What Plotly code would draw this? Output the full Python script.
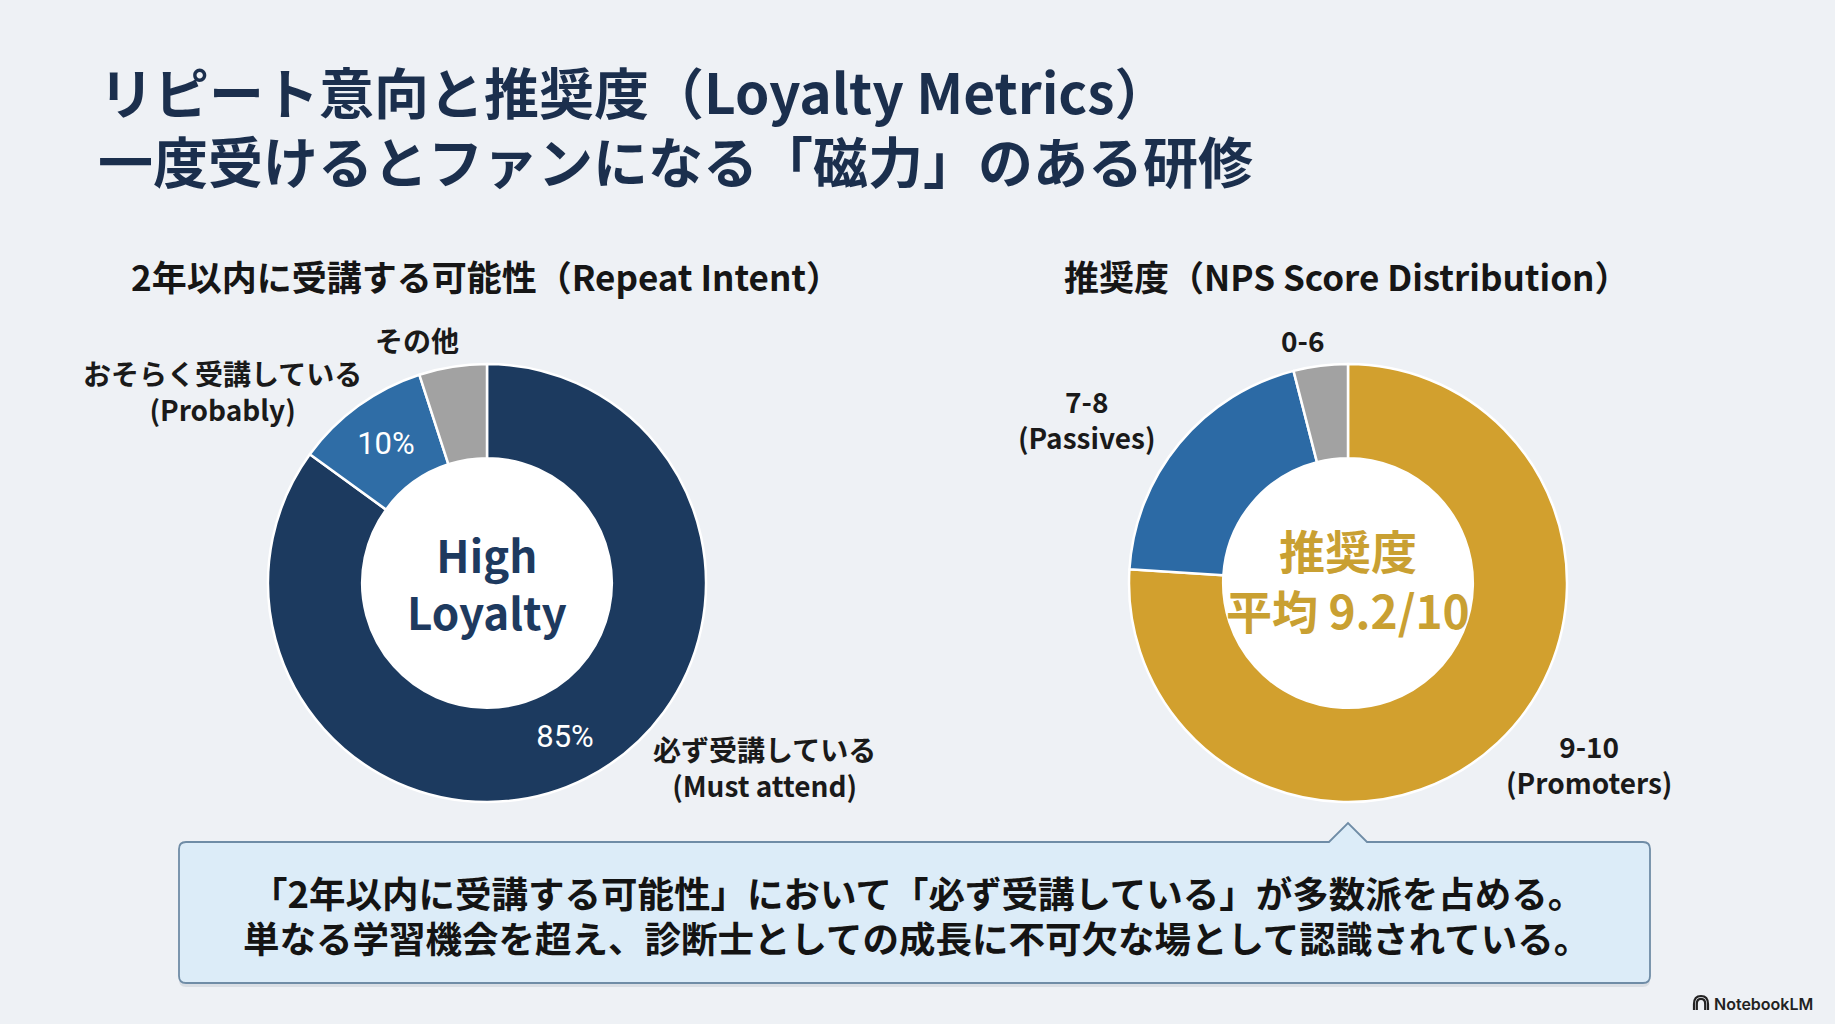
import plotly.graph_objects as go

W, H = 1835, 1024

# ---------------- data ----------------
title_lines = ["リピート意向と推奨度（Loyalty Metrics）",
               "一度受けるとファンになる「磁力」のある研修"]
left_title = "2年以内に受講する可能性（Repeat Intent）"
right_title = "推奨度（NPS Score Distribution）"

repeat_labels = ["必ず受講している<br>(Must attend)", "おそらく受講している<br>(Probably)", "その他"]
repeat_values = [85, 10, 5]
repeat_text = ["85%", "10%", ""]
repeat_colors = ["#1C3A5F", "#2F6DA6", "#A2A2A2"]

nps_labels = ["9-10<br>(Promoters)", "7-8<br>(Passives)", "0-6"]
nps_values = [76, 20, 4]
nps_colors = ["#D2A02E", "#2C6AA5", "#A2A2A2"]

left_center_text = "High<br>Loyalty"
right_center_text = "推奨度<br>平均 9.2/10"

callout_lines = ["「2年以内に受講する可能性」において「必ず受講している」が多数派を占める。",
                 "単なる学習機会を超え、診断士としての成長に不可欠な場として認識されている。"]
watermark = "NotebookLM"

# ---------------- layout helpers ----------------
def X(px):
    return px / W

def Y(py):
    return 1 - py / H

FONT = "Noto Sans CJK JP"
R_OUT = 219
HOLE = 0.57
left_c = (487, 583)
right_c = (1348, 583)
BG = "#EEF1F5"


def dom(c):
    return dict(x=[X(c[0] - R_OUT), X(c[0] + R_OUT)],
                y=[Y(c[1] + R_OUT), Y(c[1] - R_OUT)])


fig = go.Figure()

fig.add_trace(go.Pie(
    labels=repeat_labels, values=repeat_values, text=repeat_text,
    textinfo="text", textposition="inside", insidetextorientation="horizontal",
    textfont=dict(family="Roboto", size=31, color="white"),
    marker=dict(colors=repeat_colors, line=dict(color="white", width=2.5)),
    hole=HOLE, sort=False, direction="clockwise", rotation=0,
    domain=dom(left_c), showlegend=False, hoverinfo="label+percent",
))
fig.add_trace(go.Pie(
    labels=nps_labels, values=nps_values,
    textinfo="none",
    marker=dict(colors=nps_colors, line=dict(color="white", width=2.5)),
    hole=HOLE, sort=False, direction="clockwise", rotation=0,
    domain=dom(right_c), showlegend=False, hoverinfo="label+percent",
))

shapes = []
# white hole backgrounds
for c in (left_c, right_c):
    r = R_OUT * HOLE + 3
    shapes.append(dict(type="circle", xref="paper", yref="paper", layer="below",
                       x0=X(c[0] - r), x1=X(c[0] + r), y0=Y(c[1] + r), y1=Y(c[1] - r),
                       fillcolor="white", line=dict(width=0)))

# callout box with pointer
bx0, bx1, by0, by1, rr = 179, 1650, 842, 983, 7
tip_x, tip_y, tb0, tb1 = 1348, 823, 1329, 1367


def callout_path(dx=0, dy=0):
    p = lambda x, y: f"{X(x + dx)},{Y(y + dy)}"
    return (f"M {p(bx0 + rr, by0)} L {p(tb0, by0)} L {p(tip_x, tip_y)} L {p(tb1, by0)} "
            f"L {p(bx1 - rr, by0)} Q {p(bx1, by0)} {p(bx1, by0 + rr)} "
            f"L {p(bx1, by1 - rr)} Q {p(bx1, by1)} {p(bx1 - rr, by1)} "
            f"L {p(bx0 + rr, by1)} Q {p(bx0, by1)} {p(bx0, by1 - rr)} "
            f"L {p(bx0, by0 + rr)} Q {p(bx0, by0)} {p(bx0 + rr, by0)} Z")


shapes.append(dict(type="path", xref="paper", yref="paper", layer="below",
                   path=callout_path(0, 4), fillcolor="rgba(40,60,80,0.10)", line=dict(width=0)))
shapes.append(dict(type="path", xref="paper", yref="paper", layer="below",
                   path=callout_path(), fillcolor="#DCECF8",
                   line=dict(color="#6F8CA6", width=1.8)))

# NotebookLM icon (simple arches)
ix, iy = 1701, 1004
for k, rad in enumerate([7, 4.2]):
    shapes.append(dict(type="path", xref="paper", yref="paper",
                       path=(f"M {X(ix - rad)},{Y(iy + 6)} L {X(ix - rad)},{Y(iy)} "
                             f"Q {X(ix - rad)},{Y(iy - rad - 1)} {X(ix)},{Y(iy - rad - 1)} "
                             f"Q {X(ix + rad)},{Y(iy - rad - 1)} {X(ix + rad)},{Y(iy)} "
                             f"L {X(ix + rad)},{Y(iy + 6)}"),
                       line=dict(color="#222", width=2.2)))

ann = []


def add_text(txt, x, y, size, color, weight=700, xanchor="center", family=FONT):
    ann.append(dict(text=txt, x=X(x), y=Y(y), xref="paper", yref="paper",
                    xanchor=xanchor, yanchor="middle", showarrow=False, align="center",
                    font=dict(family=family, size=size, color=color, weight=weight)))


# main title
add_text(title_lines[0], 97, 90, 55, "#1B2F4D", xanchor="left")
add_text(title_lines[1], 96, 159, 55, "#1B2F4D", xanchor="left")

# subplot titles
add_text(left_title, 486, 275, 35, "#161616")
add_text(right_title, 1347, 275, 35, "#161616")

# outer labels, left donut
add_text(repeat_labels[2], 417, 340, 28, "#1A1A1A")
add_text(repeat_labels[1], 222, 391, 28, "#1A1A1A")
add_text(repeat_labels[0], 764, 767, 28, "#1A1A1A")

# outer labels, right donut
add_text(nps_labels[2], 1302, 340, 28, "#1A1A1A")
add_text(nps_labels[1], 1087, 419, 28, "#1A1A1A")
add_text(nps_labels[0], 1589, 764, 28, "#1A1A1A")

# centre texts
add_text(left_center_text, 487, 582, 44, "#1E3A5F")
add_text(right_center_text, 1348, 579, 46, "#C9A032")

# callout text
add_text(callout_lines[0], 917, 892, 36.5, "#141414")
add_text(callout_lines[1], 916, 937, 36.5, "#141414")

# watermark
add_text(watermark, 1712, 1004, 16, "#222222", weight=600, xanchor="left", family="Inter")

fig.update_layout(
    width=W, height=H,
    margin=dict(l=0, r=0, t=0, b=0),
    paper_bgcolor=BG,
    plot_bgcolor=BG,
    shapes=shapes,
    annotations=ann,
    font=dict(family=FONT),
)

fig.write_html(
    "out.html",
    config={"displayModeBar": False},
    post_script=f"document.body.style.margin='0';document.body.style.background='{BG}';"
                "document.body.style.overflow='hidden';",
)
